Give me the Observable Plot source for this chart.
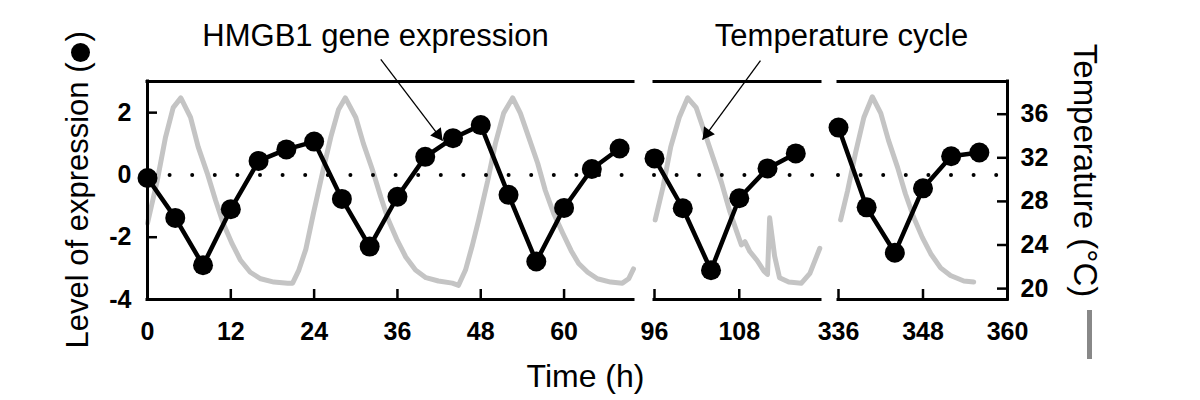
<!DOCTYPE html>
<html>
<head>
<meta charset="utf-8">
<script src="https://cdn.jsdelivr.net/npm/d3@7"></script>
<script src="https://cdn.jsdelivr.net/npm/@observablehq/plot@0.6"></script>
<style>
  body { margin: 0; background: #fff; }
  #wrap { position: relative; width: 1200px; height: 400px; overflow: hidden; }
  #wrap svg { position: absolute; top: 0; }
</style>
</head>
<body>
<div id="wrap"></div>
<script>
// ---------- data ----------
const panelStart = [0, 96, 336];
const panelEnd = [70, 119.5, 360];
const xTicks = [0, 12, 24, 36, 48, 60, 96, 108, 336, 348, 360];
const exprTicks = [-4, -2, 0, 2];
const tempTicks = [20, 24, 28, 32, 36];

const exprTime = [0, 4, 8, 12, 16, 20, 24, 28, 32, 36, 40, 44, 48, 52, 56, 60, 64, 68,
  96, 100, 104, 108, 112, 116,
  336, 340, 344, 348, 352, 356];
const exprValue = [-0.1, -1.38, -2.9, -1.1, 0.45, 0.82, 1.07, -0.77, -2.3, -0.7, 0.58, 1.18, 1.6, -0.64, -2.78, -1.06, 0.19, 0.85,
  0.53, -1.07, -3.06, -0.75, 0.21, 0.69,
  1.52, -1.04, -2.5, -0.43, 0.6, 0.72];

const tempTime = [0, 1.4, 2.6, 3.7, 4.8, 6.2, 7.3, 8.6, 9.8, 10.9, 12.2, 13.4, 14.8, 16.3, 18.2, 20.2, 20.9,
  21.8, 22.8, 23.9, 25.2, 26.4, 27.5, 28.5, 30.0, 31.1, 32.4, 33.6, 34.7, 36.0, 37.2, 38.6, 40.1, 41.9, 43.9, 44.8,
  45.8, 46.8, 47.7, 49.0, 50.1, 51.3, 52.6, 53.7, 54.9, 56.2, 57.3, 58.5, 59.8, 61.0, 62.1, 63.4, 64.8, 66.7, 68.4, 69.3, 70.0,
  96.1, 97.2, 98.3, 99.5, 100.7, 101.9, 103.0, 104.3, 105.5, 106.6, 107.6, 108.3, 108.8, 109.5, 110.5, 111.5, 112.0, 112.3,
  113.0, 113.7, 115.0, 116.8, 118.0, 119.4,
  336.3, 337.3, 338.4, 339.6, 340.8, 342.0, 343.1, 344.4, 345.5, 346.7, 347.9, 349.1, 350.5, 351.9, 353.8, 355.2];
const tempValue = [26.0, 29.9, 33.9, 36.6, 37.5, 35.7, 33.0, 30.6, 28.1, 26.0, 24.1, 22.6, 21.5, 20.9, 20.6, 20.5, 20.5,
  21.7, 23.6, 26.9, 30.6, 33.9, 36.4, 37.5, 35.7, 33.3, 30.9, 28.4, 26.3, 24.4, 22.9, 21.7, 21.0, 20.7, 20.5, 20.3,
  21.7, 24.0, 26.3, 29.9, 33.3, 36.1, 37.5, 36.1, 33.9, 31.5, 29.0, 26.9, 25.1, 23.5, 22.3, 21.5, 20.9, 20.6, 20.5, 20.9, 21.8,
  26.3, 29.3, 33.0, 35.7, 37.5, 36.6, 34.5, 32.0, 29.7, 27.2, 25.3, 24.0, 24.3, 23.4, 22.6, 21.6, 21.3, 26.5,
  23.0, 21.0, 20.6, 20.5, 21.4, 23.7,
  26.3, 29.0, 32.4, 35.7, 37.6, 36.1, 33.6, 31.1, 28.7, 26.5, 24.7, 23.2, 21.9, 21.2, 20.7, 20.6];

// annotation arrows (expression units): start -> tip
const arrowFromT = [33.6, 111.0];
const arrowFromV = [3.71, 3.67];
const arrowToT = [42.5, 102.8];
const arrowToV = [1.10, 1.13];

// ---------- layout ----------
const H = 400;
const FONT = '"Liberation Sans", Arial, Helvetica, sans-serif';
const panelLeft = [0, 640, 826];
const panelWidth = [640, 186, 374];
const panelMarginLeft = [147, 14, 12];
const panelMarginRight = [7, 6, 193];
const MT = 81, MB = 101;
const frameH = H - MT - MB;
const TICK = 10;
const exprDomain = [-4, 3];
const tempDomain = [19, 39];
const TICKFONT = {fontSize: 25, fontWeight: "bold", fill: "black"};
const BIG = 32;

const panelOf = t => panelStart.findIndex((s, i) => t >= s && t <= panelEnd[i]);
const exprRows = exprTime.map((t, i) => ({t, v: exprValue[i], panel: panelOf(t)}));
const tempRows = tempTime.map((t, i) => ({t, T: tempValue[i], panel: panelOf(t)}));
const arrows = arrowFromT.map((t, i) => ({x1: t, y1: arrowFromV[i], x2: arrowToT[i], y2: arrowToV[i], panel: panelOf(arrowToT[i])}));
const arrowHeadStyle = [{rotate: 142.6, dx: -4.7, dy: -6.2}, {rotate: 216.3, dx: 4.6, dy: -6.3}];

const wrap = document.getElementById("wrap");

function place(svg, i) {
  svg.style.left = panelLeft[i] + "px";
  wrap.appendChild(svg);
}

for (let i = 0; i < panelStart.length; ++i) {
  const W = panelWidth[i];
  const ML = panelMarginLeft[i], MR = panelMarginRight[i];
  const frameW = W - ML - MR;
  const base = {
    width: W, height: H, marginLeft: ML, marginRight: MR, marginTop: MT, marginBottom: MB,
    style: {fontFamily: FONT, background: "transparent", overflow: "visible", color: "black"},
    x: {domain: [panelStart[i], panelEnd[i]], axis: null}
  };
  const ticksHere = xTicks.filter(t => t >= panelStart[i] && t <= panelEnd[i]);
  const isFirst = i === 0, isLast = i === panelStart.length - 1;

  // ---- temperature layer (beneath) ----
  const tempMarks = [
    Plot.line(tempRows.filter(d => d.panel === i), {x: "t", y: "T", stroke: "#c4c4c4", strokeWidth: 5, strokeLinejoin: "round"})
  ];
  if (isLast) {
    tempMarks.push(
      Plot.tickY(tempTicks, {y: d => d, insetLeft: frameW - TICK, stroke: "black", strokeWidth: 2.5}),
      Plot.axisY({anchor: "right", ticks: tempTicks, tickSize: 0, tickPadding: 13, tickFormat: d => String(d), ...TICKFONT, label: null}),
      Plot.text(["Temperature (°C)"], {text: d => d, frameAnchor: "right", textAnchor: "middle", lineAnchor: "middle",
        rotate: 90, dx: 77, dy: -20, fontSize: 33, fill: "black"}),
      Plot.ruleX([panelEnd[i]], {x: d => d, dx: 82, insetTop: 229, insetBottom: -60, stroke: "#888", strokeWidth: 5})
    );
  }
  place(Plot.plot({...base, y: {domain: tempDomain, axis: null}, marks: tempMarks}), i);

  // ---- expression layer (on top) ----
  const marks = [
    Plot.ruleY([0], {stroke: "black", strokeWidth: 4, strokeDasharray: "0 22.6", strokeLinecap: "round"}),
    Plot.ruleY([exprDomain[1]], {stroke: "black", strokeWidth: 3, strokeLinecap: "square"}),
    Plot.ruleY([exprDomain[0]], {stroke: "black", strokeWidth: 3, strokeLinecap: "square"}),
    Plot.tickX(ticksHere, {x: d => d, insetTop: frameH - TICK, stroke: "black", strokeWidth: 2.5}),
    Plot.axisX({ticks: ticksHere, tickSize: 0, tickPadding: 23, tickFormat: d => String(d), ...TICKFONT, label: null})
  ];
  if (isFirst) {
    marks.push(
      Plot.ruleX([panelStart[i]], {x: d => d, stroke: "black", strokeWidth: 3, strokeLinecap: "square"}),
      Plot.tickY(exprTicks, {y: d => d, insetRight: frameW - TICK, stroke: "black", strokeWidth: 2.5}),
      Plot.axisY({anchor: "left", ticks: exprTicks, tickSize: 0, tickPadding: 16, tickFormat: d => String(d), ...TICKFONT, label: null}),
      // y title with a legend dot inside the parentheses
      Plot.text(["Level of expression ("], {text: d => d, frameAnchor: "left", textAnchor: "start", lineAnchor: "middle",
        rotate: -90, dx: -69, dy: 158, fontSize: 31, fill: "black"}),
      Plot.dot(["●"], {frameAnchor: "left", dx: -67, dy: -138, r: 9.5, fill: "black", stroke: "none"}),
      Plot.text([")"], {text: d => d, frameAnchor: "left", textAnchor: "start", lineAnchor: "middle",
        rotate: -90, dx: -69, dy: -149, fontSize: 31, fill: "black"}),
      Plot.text(["Time (h)"], {text: d => d, frameAnchor: "bottom", textAnchor: "middle", lineAnchor: "middle",
        dx: 195, dy: 77, fontSize: BIG, fill: "black"}),
      Plot.text(["HMGB1 gene expression"], {text: d => d, frameAnchor: "top", textAnchor: "middle", lineAnchor: "middle",
        dx: -15, dy: -45, fontSize: 31, fill: "black"})
    );
  } else {
    marks.push(Plot.axisY({ticks: [], label: null}));
  }
  if (i === 1) {
    marks.push(
      Plot.text(["Temperature cycle"], {text: d => d, frameAnchor: "top", textAnchor: "middle", lineAnchor: "middle",
        dx: 104, dy: -45, fontSize: 31, fill: "black"})
    );
  }
  if (isLast) {
    marks.push(Plot.ruleX([panelEnd[i]], {x: d => d, stroke: "black", strokeWidth: 3, strokeLinecap: "square"}));
  }
  marks.push(
    Plot.line(exprRows.filter(d => d.panel === i), {x: "t", y: "v", stroke: "black", strokeWidth: 4.5, strokeLinejoin: "round"}),
    Plot.dot(exprRows.filter(d => d.panel === i), {x: "t", y: "v", r: 10, fill: "black", stroke: "none"})
  );
  arrows.forEach((a, k) => {
    if (a.panel !== i) return;
    marks.push(
      Plot.link([a], {x1: "x1", y1: "y1", x2: "x2", y2: "y2", stroke: "black", strokeWidth: 1.3}),
      Plot.dot([a], {x: "x2", y: "y2", symbol: "triangle", r: 5, fill: "black", stroke: "none", ...arrowHeadStyle[k]})
    );
  });
  place(Plot.plot({...base, y: {domain: exprDomain, axis: null}, marks}), i);
}
</script>
</body>
</html>
